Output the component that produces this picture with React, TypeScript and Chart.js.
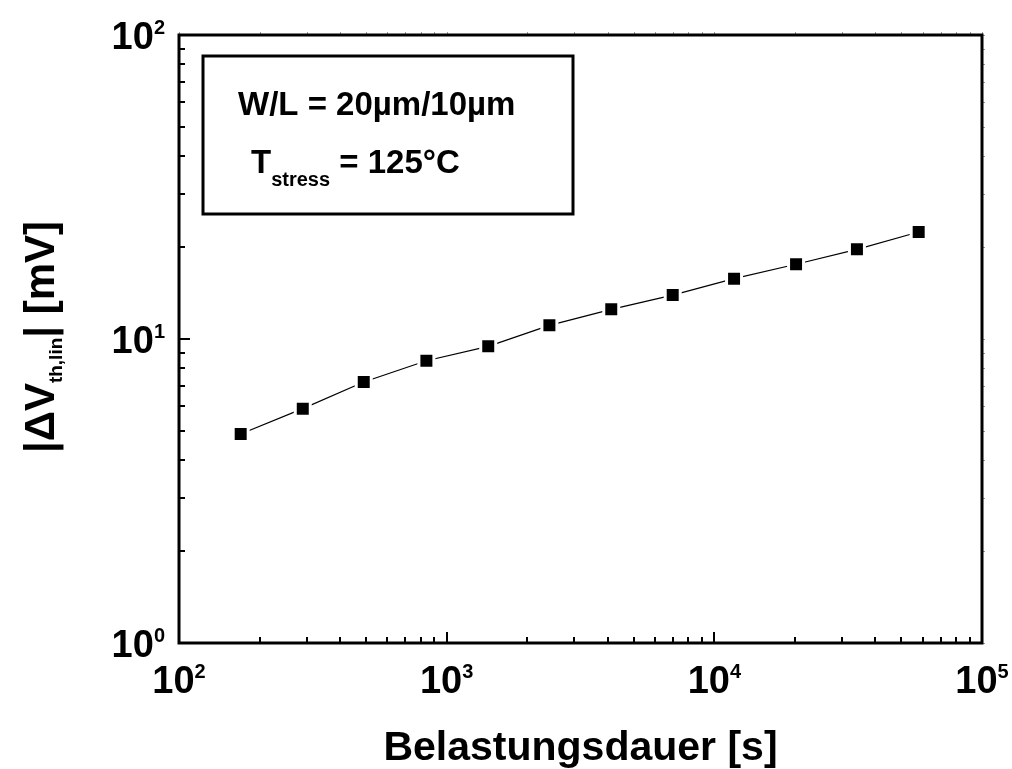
import React, { useEffect, useRef } from 'react';
import { Chart, registerables } from 'chart.js';

Chart.register(...registerables);

// ---- data ----
const stressTimes = [170, 290, 490, 840, 1430, 2420, 4120, 6990, 11850, 20200, 34100, 58000];
const deltaVth = [4.87, 5.9, 7.22, 8.48, 9.46, 11.09, 12.52, 13.95, 15.79, 17.61, 19.72, 22.49];
const xTickExponents = [2, 3, 4, 5];
const yTickExponents = [0, 1, 2];
const xTitle = 'Belastungsdauer [s]';
const yTitleMain1 = '|\u0394V';
const yTitleSub = 'th,lin';
const yTitleMain2 = '| [mV]';
const legendLine1 = 'W/L = 20\u00b5m/10\u00b5m';
const legendT = 'T';
const legendTSub = 'stress';
const legendTRest = ' = 125\u00b0C';

const FONT = "'Liberation Sans', Arial, sans-serif";

const overlay = {
  id: 'overlay',
  afterDraw(chart: any) {
    const { ctx, chartArea: a, scales } = chart;
    const xs = scales.x;
    const ys = scales.y;
    ctx.save();
    ctx.strokeStyle = '#000';
    ctx.fillStyle = '#000';

    const xMinE = xTickExponents[0];
    const xMaxE = xTickExponents[xTickExponents.length - 1];
    const yMinE = yTickExponents[0];
    const yMaxE = yTickExponents[yTickExponents.length - 1];

    // faint outward ticks on top and right axes
    ctx.strokeStyle = '#999';
    ctx.lineWidth = 1;
    for (let e = xMinE; e <= xMaxE; e++) {
      for (let m = 1; m <= 9; m++) {
        if (e === xMaxE && m > 1) break;
        const px = Math.round(xs.getPixelForValue(m * Math.pow(10, e))) + 0.5;
        ctx.beginPath();
        ctx.moveTo(px, a.top);
        ctx.lineTo(px, a.top - 3);
        ctx.stroke();
      }
    }
    for (let e = yMinE; e <= yMaxE; e++) {
      for (let m = 1; m <= 9; m++) {
        if (e === yMaxE && m > 1) break;
        const py = Math.round(ys.getPixelForValue(m * Math.pow(10, e))) + 0.5;
        ctx.beginPath();
        ctx.moveTo(a.right, py);
        ctx.lineTo(a.right + 3, py);
        ctx.stroke();
      }
    }
    ctx.strokeStyle = '#000';

    // frame
    ctx.lineWidth = 3;
    ctx.strokeRect(a.left, a.top, a.right - a.left, a.bottom - a.top);

    // inward ticks
    ctx.lineWidth = 2;
    for (let e = xMinE; e <= xMaxE; e++) {
      for (let m = 1; m <= 9; m++) {
        if (e === xMaxE && m > 1) break;
        const v = m * Math.pow(10, e);
        const px = Math.round(xs.getPixelForValue(v));
        const len = m === 1 ? 11 : 6;
        ctx.beginPath();
        ctx.moveTo(px, a.bottom);
        ctx.lineTo(px, a.bottom - len);
        ctx.stroke();
      }
    }
    for (let e = yMinE; e <= yMaxE; e++) {
      for (let m = 1; m <= 9; m++) {
        if (e === yMaxE && m > 1) break;
        const v = m * Math.pow(10, e);
        const py = Math.round(ys.getPixelForValue(v));
        const len = m === 1 ? 11 : 6;
        ctx.beginPath();
        ctx.moveTo(a.left, py);
        ctx.lineTo(a.left + len, py);
        ctx.stroke();
      }
    }

    const mainF = `bold 38px ${FONT}`;
    const supF = `bold 20px ${FONT}`;
    ctx.textBaseline = 'alphabetic';
    ctx.textAlign = 'left';

    // x tick labels
    for (const e of xTickExponents) {
      const px = xs.getPixelForValue(Math.pow(10, e));
      ctx.font = mainF;
      const w1 = ctx.measureText('10').width;
      ctx.font = supF;
      const w2 = ctx.measureText(String(e)).width;
      const x0 = px - (w1 + w2) / 2;
      const base = a.bottom + 50;
      ctx.font = mainF;
      ctx.fillText('10', x0, base);
      ctx.font = supF;
      ctx.fillText(String(e), x0 + w1, base - 15);
    }

    // y tick labels
    for (const e of yTickExponents) {
      const py = ys.getPixelForValue(Math.pow(10, e));
      ctx.font = mainF;
      const w1 = ctx.measureText('10').width;
      ctx.font = supF;
      const w2 = ctx.measureText(String(e)).width;
      const right = a.left - 14;
      const x0 = right - w1 - w2;
      const base = py + 14;
      ctx.font = mainF;
      ctx.fillText('10', x0, base);
      ctx.font = supF;
      ctx.fillText(String(e), x0 + w1, base - 15);
    }

    // x title
    ctx.font = `bold 41px ${FONT}`;
    ctx.textAlign = 'center';
    ctx.fillText(xTitle, (a.left + a.right) / 2, 760);

    // y title (rotated)
    ctx.textAlign = 'left';
    const yMainF = `bold 42px ${FONT}`;
    const ySubF = `bold 19px ${FONT}`;
    ctx.font = yMainF;
    const t1 = ctx.measureText(yTitleMain1).width;
    const t3 = ctx.measureText(yTitleMain2).width;
    ctx.font = ySubF;
    const t2 = ctx.measureText(yTitleSub).width;
    const total = t1 + t2 + t3;
    ctx.save();
    ctx.translate(54, (a.top + a.bottom) / 2 - 2);
    ctx.rotate(-Math.PI / 2);
    let cx = -total / 2;
    ctx.font = yMainF;
    ctx.fillText(yTitleMain1, cx, 0);
    cx += t1;
    ctx.font = ySubF;
    ctx.fillText(yTitleSub, cx, 8);
    cx += t2;
    ctx.font = yMainF;
    ctx.fillText(yTitleMain2, cx, 0);
    ctx.restore();

    // legend box
    ctx.lineWidth = 3;
    ctx.strokeRect(203, 56, 370, 158);
    ctx.font = `bold 33px ${FONT}`;
    ctx.fillText(legendLine1, 238, 115);
    ctx.fillText(legendT, 251, 173);
    const tw = ctx.measureText(legendT).width;
    ctx.font = `bold 20px ${FONT}`;
    ctx.fillText(legendTSub, 251 + tw, 186);
    const sw = ctx.measureText(legendTSub).width;
    ctx.font = `bold 33px ${FONT}`;
    ctx.fillText(legendTRest, 251 + tw + sw, 173);

    ctx.restore();
  },
};

export default function App() {
  const ref = useRef<HTMLCanvasElement | null>(null);
  useEffect(() => {
    if (!ref.current) return;
    const chart = new Chart(ref.current, {
      type: 'line',
      data: {
        datasets: [
          {
            data: stressTimes.map((t, i) => ({ x: t, y: deltaVth[i] })),
            borderColor: '#000',
            borderWidth: 1.2,
            pointStyle: 'rect',
            pointRadius: 10.6,
            pointHoverRadius: 10.6,
            pointBackgroundColor: '#000',
            pointBorderColor: '#fff',
            pointBorderWidth: 3,
            tension: 0,
            fill: false,
          },
        ],
      },
      options: {
        animation: false,
        responsive: false,
        devicePixelRatio: 1,
        layout: { padding: { left: 179, right: 30, top: 35, bottom: 126 } },
        scales: {
          x: { type: 'logarithmic', min: 100, max: 100000, display: false },
          y: { type: 'logarithmic', min: 1, max: 100, display: false },
        },
        plugins: { legend: { display: false }, tooltip: { enabled: false } },
        events: [],
      },
      plugins: [overlay],
    } as any);
    return () => chart.destroy();
  }, []);
  return (
    <div style={{ position: 'absolute', left: 0, top: 0, width: 1012, height: 769, background: '#fff' }}>
      <canvas ref={ref} width={1012} height={769} style={{ display: 'block' }} />
    </div>
  );
}
